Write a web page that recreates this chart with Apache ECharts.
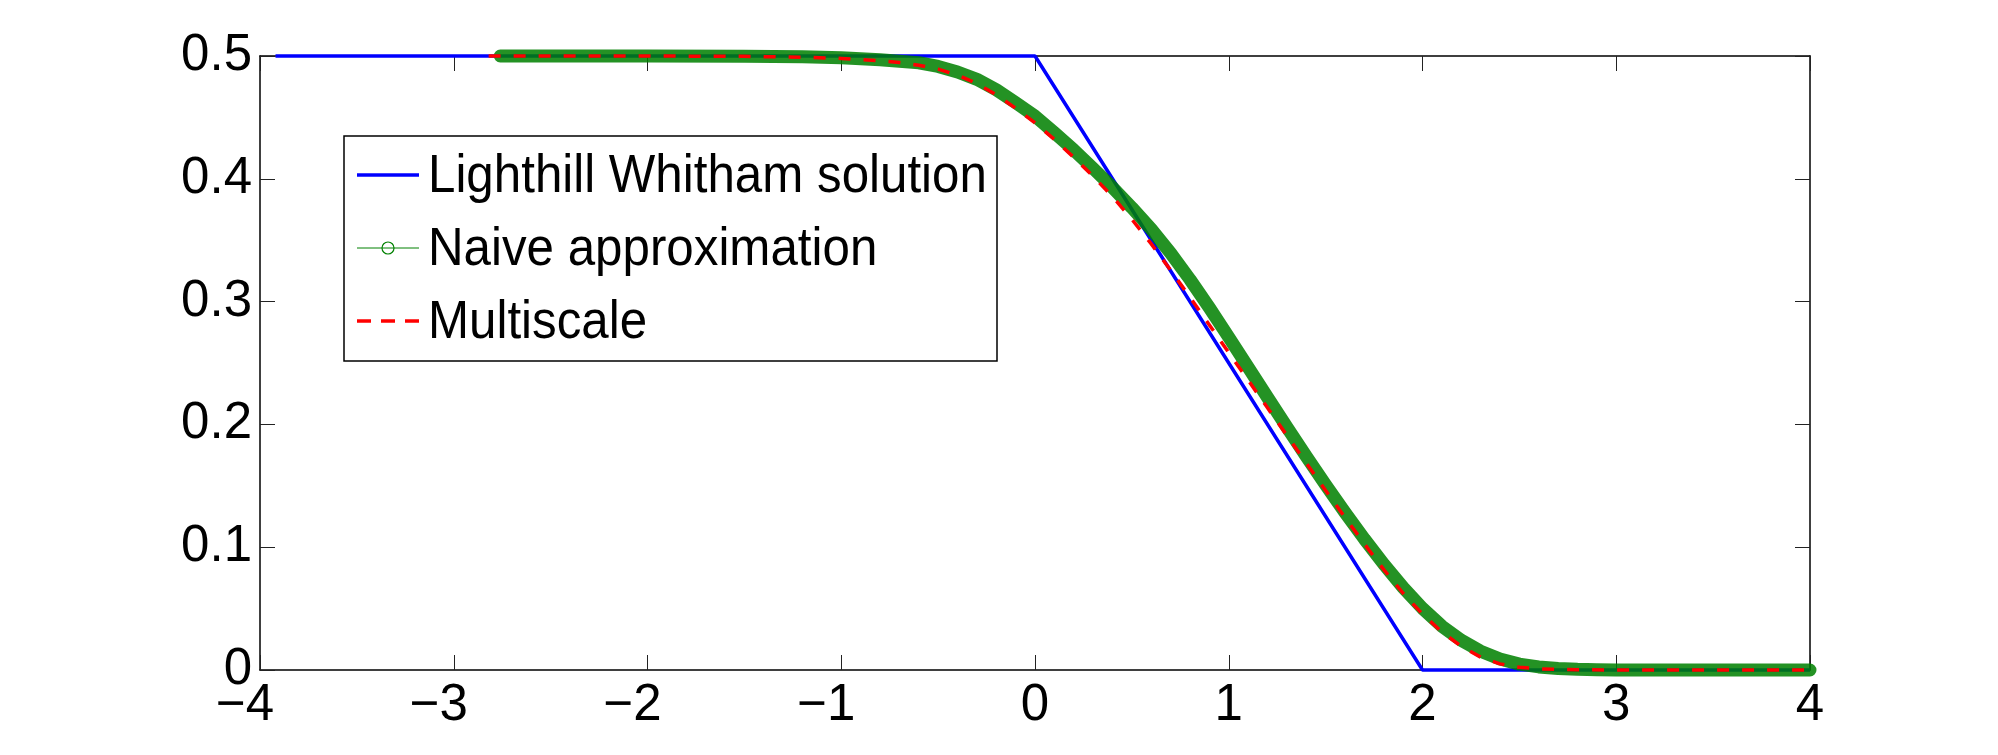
<!DOCTYPE html>
<html>
<head>
<meta charset="utf-8">
<script src="https://cdn.jsdelivr.net/npm/echarts@6/dist/echarts.min.js"></script>
<style>
html,body{margin:0;padding:0;background:#fff;}
#c{width:1998px;height:755px;}
</style>
</head>
<body>
<div id="c"></div>
<script>
// ---- data ----
const SERIES_NAMES = ['Lighthill Whitham solution', 'Naive approximation', 'Multiscale'];
const X_TICKS = [-4, -3, -2, -1, 0, 1, 2, 3, 4];
const Y_TICKS = [0, 0.1, 0.2, 0.3, 0.4, 0.5];

const BLUE_X = [-3.92, 0, 2, 4];
const BLUE_Y = [0.5, 0.5, 0, 0];

const GREEN_X = [-2.76, -2.5, -2.0, -1.5, -1.2, -1.0, -0.8, -0.7, -0.6, -0.5, -0.4, -0.3, -0.2, -0.1,
  0.0, 0.1, 0.2, 0.3, 0.4, 0.5, 0.6, 0.7, 0.8, 0.9, 1.0, 1.1, 1.2, 1.3, 1.4, 1.5, 1.6, 1.7, 1.8, 1.9,
  2.0, 2.1, 2.2, 2.3, 2.4, 2.5, 2.6, 2.7, 2.8, 2.9, 3.0, 3.5, 4.0];
const GREEN_Y = [0.5, 0.5, 0.5, 0.4998, 0.4993, 0.4985, 0.497, 0.4958, 0.4945, 0.4915, 0.487, 0.481, 0.4725, 0.462,
  0.451, 0.4375, 0.4235, 0.4085, 0.393, 0.3765, 0.359, 0.3395, 0.318, 0.295, 0.271, 0.2465, 0.222, 0.1978, 0.174, 0.1507, 0.1282, 0.1067, 0.0862, 0.0672,
  0.0502, 0.0357, 0.0242, 0.0153, 0.0089, 0.0048, 0.0025, 0.0013, 0.0006, 0.0003, 0.0001, 0, 0];

const RED_X = [-2.82, -2.5, -2.0, -1.5, -1.2, -1.0, -0.8, -0.7, -0.6, -0.5, -0.4, -0.3, -0.2, -0.1,
  0.0, 0.1, 0.2, 0.3, 0.4, 0.5, 0.6, 0.7, 0.8, 0.9, 1.0, 1.1, 1.2, 1.3, 1.4, 1.5, 1.6, 1.7, 1.8, 1.9,
  2.0, 2.1, 2.2, 2.3, 2.4, 2.5, 2.6, 2.7, 2.8, 3.0, 3.5, 4.0];
const RED_Y = [0.5, 0.5, 0.5, 0.4997, 0.499, 0.498, 0.4962, 0.4947, 0.4925, 0.4893, 0.4845, 0.4775, 0.4685, 0.4575,
  0.4455, 0.432, 0.4175, 0.402, 0.3855, 0.367, 0.347, 0.3255, 0.3035, 0.281, 0.2585, 0.236, 0.2135, 0.191, 0.1685, 0.1462, 0.1242, 0.1027, 0.0818, 0.0625,
  0.0455, 0.031, 0.0192, 0.0105, 0.005, 0.0022, 0.0010, 0.0005, 0.0002, 0, 0, 0];

// ---- chart ----
function pairs(xs, ys) { return xs.map((x, i) => [x, ys[i]]); }
const FONT = '"Liberation Sans", Arial, Helvetica, sans-serif';
const AXIS_LINE = { show: true, onZero: false, lineStyle: { color: '#000', width: 1.5 } };
const TICK = { show: true, inside: true, length: 15, lineStyle: { color: '#222', width: 1 } };

function xLabel(v) {
  if (v < 0) return '{n|\u2212' + Math.abs(v) + '}';
  return String(v);
}
function yLabel(v) { return v === 0 ? '0' : v.toFixed(1); }

const xMin = X_TICKS[0], xMax = X_TICKS[X_TICKS.length - 1], xInt = X_TICKS[1] - X_TICKS[0];
const yMin = Y_TICKS[0], yMax = Y_TICKS[Y_TICKS.length - 1], yInt = 0.1;

const chart = echarts.init(document.getElementById('c'), null, { renderer: 'canvas' });
const LX = 428, LFONT = '53px ' + FONT, LSCALE = 0.93;
chart.setOption({
  animation: false,
  backgroundColor: '#fff',
  grid: { left: 260, right: 188, top: 56, bottom: 85, containLabel: false },
  xAxis: [
    { type: 'value', position: 'bottom', min: xMin, max: xMax, interval: xInt,
      axisLine: AXIS_LINE, axisTick: TICK, splitLine: { show: false },
      axisLabel: { show: true, formatter: xLabel, fontSize: 51, fontFamily: FONT, color: '#000', margin: 10,
        rich: { n: { fontSize: 51, fontFamily: FONT, color: '#000', padding: [0, 30, 0, 0] } } } },
    { type: 'value', position: 'top', min: xMin, max: xMax, interval: xInt,
      axisLine: AXIS_LINE, axisTick: TICK, splitLine: { show: false }, axisLabel: { show: false } }
  ],
  yAxis: [
    { type: 'value', position: 'left', min: yMin, max: yMax, interval: yInt,
      axisLine: AXIS_LINE, axisTick: TICK, splitLine: { show: false },
      axisLabel: { show: true, formatter: yLabel, fontSize: 51, fontFamily: FONT, color: '#000', margin: 8 } },
    { type: 'value', position: 'right', min: yMin, max: yMax, interval: yInt,
      axisLine: AXIS_LINE, axisTick: TICK, splitLine: { show: false }, axisLabel: { show: false } }
  ],
  series: [
    { name: SERIES_NAMES[0], type: 'line', data: pairs(BLUE_X, BLUE_Y), symbol: 'none', clip: false,
      lineStyle: { color: '#0000ff', width: 3.5 }, itemStyle: { color: '#0000ff' }, z: 2 },
    { name: SERIES_NAMES[1], type: 'line', data: pairs(GREEN_X, GREEN_Y), symbol: 'none', clip: false,
      lineStyle: { color: 'rgba(0,128,0,0.86)', width: 13, cap: 'round', join: 'round' }, itemStyle: { color: '#008000' }, z: 3 },
    { name: SERIES_NAMES[2], type: 'line', data: pairs(RED_X, RED_Y), symbol: 'none', clip: false,
      lineStyle: { color: '#ff0000', width: 3.5, type: [12, 13] }, itemStyle: { color: '#ff0000' }, z: 4 }
  ],
  graphic: { elements: [
    { type: 'rect', z: 100, shape: { x: 344, y: 136, width: 653, height: 225 },
      style: { fill: '#fff', stroke: '#000', lineWidth: 1.5 } },
    { type: 'line', z: 101, shape: { x1: 357, y1: 175, x2: 419, y2: 175 }, style: { stroke: '#0000ff', lineWidth: 3.5 } },
    { type: 'line', z: 101, shape: { x1: 357, y1: 248, x2: 419, y2: 248 }, style: { stroke: '#008000', lineWidth: 1 } },
    { type: 'circle', z: 102, shape: { cx: 388, cy: 248, r: 6 }, style: { fill: 'none', stroke: '#008000', lineWidth: 1.2 } },
    { type: 'line', z: 101, shape: { x1: 357, y1: 321, x2: 419, y2: 321 }, style: { stroke: '#ff0000', lineWidth: 3.5, lineDash: [14, 10] } },
    { type: 'text', z: 101, x: LX, y: 177, scaleX: LSCALE, style: { text: SERIES_NAMES[0], font: LFONT, fill: '#000', verticalAlign: 'middle', align: 'left' } },
    { type: 'text', z: 101, x: LX, y: 250, scaleX: LSCALE, style: { text: SERIES_NAMES[1], font: LFONT, fill: '#000', verticalAlign: 'middle', align: 'left' } },
    { type: 'text', z: 101, x: LX, y: 323, scaleX: LSCALE, style: { text: SERIES_NAMES[2], font: LFONT, fill: '#000', verticalAlign: 'middle', align: 'left' } }
  ] }
});
</script>
</body>
</html>
